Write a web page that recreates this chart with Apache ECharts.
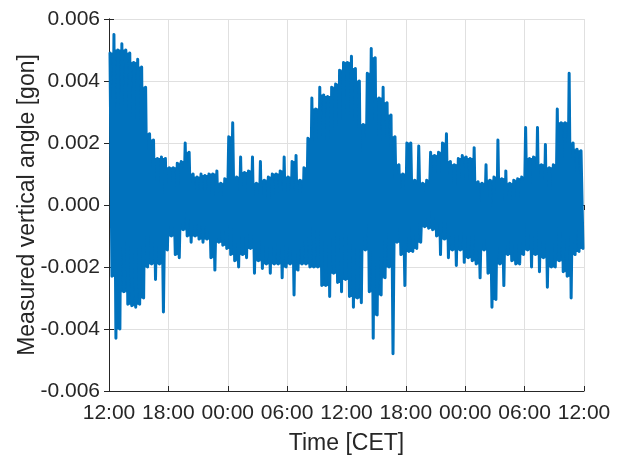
<!DOCTYPE html>
<html>
<head>
<meta charset="utf-8">
<script src="https://cdn.jsdelivr.net/npm/echarts@6/dist/echarts.min.js"></script>
<style>
  html, body { margin: 0; padding: 0; background: #fff; }
  #chart { width: 624px; height: 460px; }
</style>
</head>
<body>
<div id="chart"></div>
<script>
// hours since the first 12:00; each bin is 0.4 h wide
const binHours = 0.4;
// upper / lower envelope of the signal per bin, in 0.001 gon
const upper = [
  4.9, 5.5, 5.0, 5.2, 5.0, 4.9, 4.6, 4.7, 4.45, 3.8,
  2.3, 2.1, 1.5, 1.55, 1.5, 1.2, 1.2, 1.35, 1.4, 2.0,
  1.7, 1.0, 0.9, 1.0, 0.95, 1.0, 1.0, 1.1, 0.7, 0.85,
  2.2, 2.65, 0.9, 1.55, 1.05, 1.1, 1.55, 0.7, 1.4, 0.8,
  0.9, 1.0, 1.0, 1.1, 1.55, 0.9, 1.4, 1.6, 0.8, 1.2,
  2.15, 3.45, 3.1, 3.8, 3.55, 3.5, 3.8, 3.9, 4.35, 4.6,
  4.6, 4.8, 4.4, 4.0, 2.6, 4.25, 5.05, 4.75, 3.45, 3.8,
  3.3, 2.9, 2.2, 1.3, 1.0, 2.0, 2.0, 0.8, 1.9, 0.7,
  0.8, 1.7, 1.6, 1.7, 2.0, 2.3, 1.4, 1.3, 1.5, 1.6,
  1.55, 1.5, 1.85, 0.75, 0.7, 1.3, 0.8, 0.9, 2.1, 0.85,
  1.1, 0.7, 0.8, 0.85, 0.9, 2.5, 1.5, 1.55, 2.5, 1.3,
  1.95, 1.2, 1.3, 3.1, 2.65, 2.65, 4.25, 2.0, 1.8, 1.75
];
const lower = [
  -2.3, -4.3, -4.0, -2.8, -3.2, -3.25, -3.3, -3.2, -3.0, -2.0,
  -1.9, -2.4, -1.9, -3.45, -1.45, -1.0, -1.6, -1.7, -0.8, -1.0,
  -1.2, -1.0, -1.1, -1.2, -1.1, -1.7, -2.1, -1.2, -1.3, -1.4,
  -1.6, -1.8, -2.0, -1.6, -1.7, -1.4, -2.2, -1.8, -2.05, -1.9,
  -2.2, -1.9, -1.9, -2.35, -2.0, -1.9, -2.9, -2.1, -1.9, -1.9,
  -2.0, -2.0, -2.0, -2.6, -2.6, -2.95, -2.2, -2.5, -2.8, -2.4,
  -2.95, -3.3, -3.0, -3.15, -1.45, -2.8, -4.3, -3.55, -2.9, -2.35,
  -2.0, -4.8, -1.2, -1.6, -2.6, -1.5, -1.5, -1.4, -1.2, -0.7,
  -0.75, -0.8, -1.0, -1.6, -1.1, -1.7, -1.45, -1.95, -1.45, -1.85,
  -1.7, -1.8, -1.9, -2.35, -1.45, -2.2, -3.3, -3.05, -1.9, -2.6,
  -1.6, -1.8, -1.9, -1.9, -1.6, -1.45, -2.0, -1.6, -2.15, -1.7,
  -2.65, -2.0, -2.0, -1.8, -2.15, -2.3, -3.0, -1.6, -1.5, -1.4
];
const tickLabels = ['12:00', '18:00', '00:00', '06:00', '12:00', '18:00', '00:00', '06:00', '12:00'];

const blue = '#0072BD';
const textColor = '#262626';
const gridColor = '#e0e0e0';
const font = 'Liberation Sans, Arial, Helvetica, sans-serif';

// zigzag trace: bin maximum then bin minimum
const points = [];
for (let i = 0; i < upper.length; i++) {
  const t = i * binHours;
  points.push([t + 0.1, upper[i] / 1000]);
  points.push([t + 0.3, lower[i] / 1000]);
}

// solid core between neighbouring bins (what the dense samples cover)
const core = [];
for (let i = 0; i < upper.length - 1; i++) {
  const t = i * binHours;
  core.push([
    t + 0.1, t + binHours + 0.1, t + 0.3, t + binHours + 0.3,
    Math.min(upper[i], upper[i + 1]) / 1000,
    Math.max(lower[i], lower[i + 1]) / 1000
  ]);
}

function renderCore(params, api) {
  const top = api.value(4), bot = api.value(5);
  const pts = [
    api.coord([api.value(0), top]),
    api.coord([api.value(1), top]),
    api.coord([api.value(3), bot]),
    api.coord([api.value(2), bot])
  ];
  return {
    type: 'polygon',
    shape: { points: pts },
    style: { fill: blue, stroke: blue, lineWidth: 1 }
  };
}

const tickStyle = { color: textColor, width: 1 };

const chart = echarts.init(document.getElementById('chart'), null, { renderer: 'canvas' });
chart.setOption({
  animation: false,
  grid: { left: 109, right: 40, top: 19, bottom: 67 },
  xAxis: [
    {
      type: 'value', min: 0, max: 48, interval: 6,
      name: 'Time [CET]', nameLocation: 'middle', nameGap: 41, nameMoveOverlap: false,
      nameTextStyle: { color: textColor, fontSize: 23, fontFamily: font },
      axisLine: { onZero: false, lineStyle: tickStyle },
      axisTick: { inside: true, length: 5, lineStyle: tickStyle },
      axisLabel: {
        color: textColor, fontSize: 21, fontFamily: font, margin: 12,
        formatter: v => tickLabels[Math.round(v / 6)]
      },
      splitLine: { show: true, lineStyle: { color: gridColor, width: 1 } }
    },
    {
      type: 'value', min: 0, max: 48, interval: 6, position: 'top',
      axisLine: { show: true, lineStyle: tickStyle },
      axisTick: { show: true, inside: true, length: 5, lineStyle: tickStyle },
      axisLabel: { show: false },
      splitLine: { show: false }
    }
  ],
  yAxis: [
    {
      type: 'value', min: -0.006, max: 0.006, interval: 0.002,
      name: 'Measured vertical angle [gon]', nameLocation: 'middle', nameGap: 70, nameMoveOverlap: false,
      nameTextStyle: { color: textColor, fontSize: 23, fontFamily: font },
      axisLine: { show: true, lineStyle: tickStyle },
      axisTick: { show: true, inside: true, length: 5, lineStyle: tickStyle },
      axisLabel: {
        color: textColor, fontSize: 21, fontFamily: font, margin: 9,
        formatter: v => v.toFixed(3)
      },
      splitLine: { show: true, lineStyle: { color: gridColor, width: 1 } }
    },
    {
      type: 'value', min: -0.006, max: 0.006, interval: 0.002, position: 'right',
      axisLine: { show: true, lineStyle: tickStyle },
      axisTick: { show: true, inside: true, length: 5, lineStyle: tickStyle },
      axisLabel: { show: false },
      splitLine: { show: false }
    }
  ],
  series: [
    {
      type: 'custom',
      renderItem: renderCore,
      data: core,
      encode: { x: [0, 1, 2, 3], y: [4, 5] },
      z: 2
    },
    {
      type: 'line',
      data: points,
      showSymbol: false,
      sampling: 'none',
      lineStyle: { color: blue, width: 3, join: 'round', cap: 'round' },
      z: 3
    }
  ]
});
</script>
</body>
</html>
